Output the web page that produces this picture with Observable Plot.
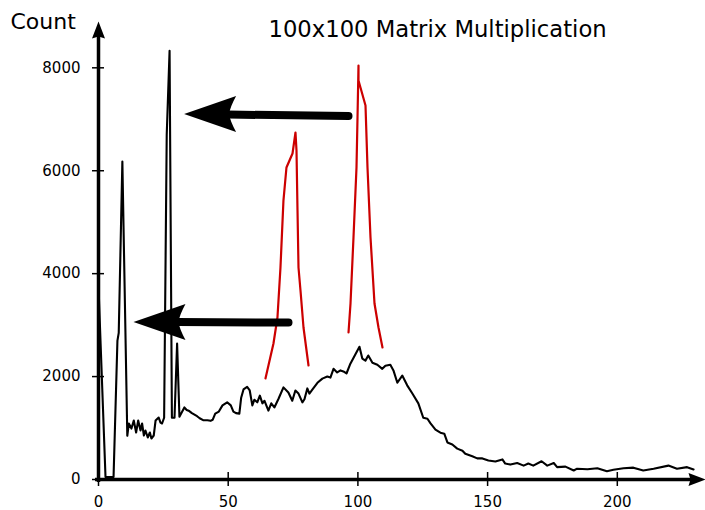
<!DOCTYPE html>
<html><head><meta charset="utf-8">
<script src="https://cdn.jsdelivr.net/npm/d3@7"></script>
<script src="https://cdn.jsdelivr.net/npm/@observablehq/plot@0.6"></script>
<style>body{margin:0;background:#fff;} svg{display:block;}</style>
</head><body><div id="chart"></div>
<script>
const titleText = "100x100 Matrix Multiplication";
const yLabel = "Count";
const xTicks = [0, 50, 100, 150, 200];
const yTicks = [0, 2000, 4000, 6000, 8000];

// histogram series (bin position, count)
const binX = [0, 2.7, 5.8, 7.3, 7.8, 9.2, 11.1, 11.7, 12.7, 13.6, 14.5, 15.3, 16.2, 16.8, 17.5, 18.1, 19, 19.8, 20.4, 21.3, 22, 23.2, 23.9, 24.5, 25.3, 26.3, 27.4, 28.3, 29.3, 30.3, 31.2, 33.1, 34, 35, 36, 37, 38, 39,
  40.5, 42, 43.2, 44, 45, 46.4, 47.8, 49.6, 51, 52, 53, 54.3, 55, 55.9, 57.3, 58.3, 59.3, 60.1, 61.2, 62.2, 63.2, 64, 65.5, 66.6, 67.8, 69.4, 71.3, 73.2, 74.7, 75.9, 77.1, 78.6, 79.4, 80.5, 81.3, 82.5, 84.4, 86.3, 88.2, 89.4, 90.6, 92, 93.3, 94.4, 95.6, 97.1, 99, 100.6, 101.7, 102.9, 104, 105.6, 107.5, 109.4, 110.6, 112.5, 113.7, 115.2, 117.1, 119, 121, 123.3, 125.2, 126.8, 128, 129.9, 131.8, 133.3, 134.5, 136.4, 138.3, 140.3, 141.4, 144.1, 146, 148, 150.3, 153, 155.7, 156.8, 158.8, 161.4, 163.9, 165.7, 167.6, 170.8, 173, 175.5, 176.8, 180, 183.2, 184.5, 188.5, 192.3, 196, 198.5, 202.4, 206.2, 210, 214, 219.7, 223, 226.9, 229.4];
const counts = [3750, 50, 50, 2700, 2850, 6180, 850, 1088, 990, 1146, 913, 1146, 952, 1088, 855, 952, 816, 913, 797, 855, 1146, 1205, 1107, 1088, 1200, 6700, 8330, 1200, 1200, 2640, 1220, 1400, 1350, 1330, 1290, 1260, 1230, 1190,
  1150, 1150, 1140, 1160, 1280, 1320, 1440, 1500, 1440, 1320, 1290, 1280, 1590, 1750, 1800, 1730, 1440, 1550, 1500, 1630, 1480, 1530, 1340, 1480, 1400, 1570, 1790, 1690, 1530, 1730, 1670, 1500, 1560, 1770, 1670, 1750, 1880, 1960, 2000, 1980, 2150, 2080, 2120, 2100, 2060, 2250, 2430, 2580, 2350, 2310, 2410, 2270, 2230, 2150, 2210, 2230, 2120, 1880, 2020, 1830, 1670, 1480, 1200, 1180, 1090, 970, 910, 890, 720, 680, 600, 560, 500, 450, 410, 410, 370, 350, 390, 310, 290, 320, 270, 310, 270, 355, 270, 320, 240, 250, 175, 210, 200, 220, 160, 190, 220, 230, 175, 210, 270, 210, 240, 195];

// red hand-drawn peaks
const red1X = [64.37, 67.45, 68.99, 70.15, 71.30, 72.46, 74.79, 75.94, 76.33, 76.72, 77.10, 77.87, 79.03, 80.96];
const red1Y = [1963, 2643, 3148, 4120, 5421, 6063, 6335, 6743, 6393, 5227, 4120, 3673, 2954, 2215];
const red2X = [96.38, 97.15, 98.30, 99.46, 99.85, 100.23, 100.23, 102.93, 103.70, 104.86, 106.40, 107.94, 109.48];
const red2Y = [2857, 3420, 4703, 6063, 7034, 8045, 7753, 7268, 6063, 4703, 3420, 2954, 2565];

// black annotation arrows
const arrowTipX = [33.0, 13.49];
const arrowTipY = [7102, 3061];
const arrowTailX = [96.38, 73.25];
const arrowTailY = [7064, 3051];

const series = binX.map((x, i) => ({x, y: counts[i]}));
const red1 = red1X.map((x, i) => ({x, y: red1Y[i]}));
const red2 = red2X.map((x, i) => ({x, y: red2Y[i]}));
const arrows = arrowTipX.map((x, i) => ({hx: x, hy: arrowTipY[i], tx: arrowTailX[i], ty: arrowTailY[i]}));

// arrowhead symbols, tip at origin, pointing left
const bigHead = {draw(ctx) {
  ctx.moveTo(0, 0);
  ctx.lineTo(52, -18);
  ctx.quadraticCurveTo(46, -7, 45, 0);
  ctx.quadraticCurveTo(46, 7, 52, 18);
  ctx.closePath();
}};
const axisHead = {draw(ctx) {
  ctx.moveTo(0, 0);
  ctx.lineTo(17, -6.5);
  ctx.lineTo(15, 0);
  ctx.lineTo(17, 6.5);
  ctx.closePath();
}};

const font = "DejaVu Sans";
const chart = Plot.plot({
  width: 705,
  height: 510,
  marginLeft: 98,
  marginRight: 0,
  marginTop: 21,
  marginBottom: 31,
  style: {fontFamily: font, background: "#fff", color: "black"},
  x: {domain: [0, 234], label: null},
  y: {domain: [0, 8900], label: null},
  marks: [
    Plot.line(series, {x: "x", y: "y", stroke: "black", strokeWidth: 2.1}),
    Plot.line(red1, {x: "x", y: "y", stroke: "#cc0000", strokeWidth: 2.2}),
    Plot.line(red2, {x: "x", y: "y", stroke: "#cc0000", strokeWidth: 2.2}),
    Plot.arrow(arrows, {x1: "tx", y1: "ty", x2: "hx", y2: "hy", headLength: 0, insetEnd: 44, strokeWidth: 8, stroke: "black"}),
    Plot.dot(arrows, {x: "hx", y: "hy", symbol: bigHead, r: 1, fill: "black"}),
    // axes
    Plot.ruleY([0], {stroke: "black", strokeWidth: 3.5, insetRight: 10, insetLeft: -3}),
    Plot.ruleX([0], {stroke: "black", strokeWidth: 3.5, insetTop: 10, insetBottom: -3}),
    Plot.dot([0], {frameAnchor: "top-left", symbol: axisHead, r: 1, fill: "black", rotate: 90}),
    Plot.dot([0], {frameAnchor: "bottom-right", symbol: axisHead, r: 1, fill: "black", rotate: 180}),
    Plot.axisX({ticks: xTicks, tickSize: 14, dy: -7, tickFormat: () => "", strokeWidth: 1.5}),
    Plot.axisY({ticks: yTicks, tickSize: 12, dx: 6, tickFormat: () => "", strokeWidth: 1.5}),
    Plot.axisX({ticks: xTicks, tickSize: 0, tickPadding: 16.5, fontSize: 15, tickFormat: d => String(d)}),
    Plot.axisY({ticks: yTicks, tickSize: 0, tickPadding: 18, fontSize: 15, tickFormat: d => String(d)}),
    // titles
    Plot.text([titleText], {frameAnchor: "top-left", textAnchor: "start", lineAnchor: "middle", dx: 170, dy: 8.5, fontSize: 22.7, fill: "black"}),
    Plot.text([yLabel], {frameAnchor: "top-left", textAnchor: "start", lineAnchor: "middle", dx: -88, dy: 0, fontSize: 22, fill: "black"})
  ]
});
document.getElementById("chart").appendChild(chart);
</script>
</body></html>
